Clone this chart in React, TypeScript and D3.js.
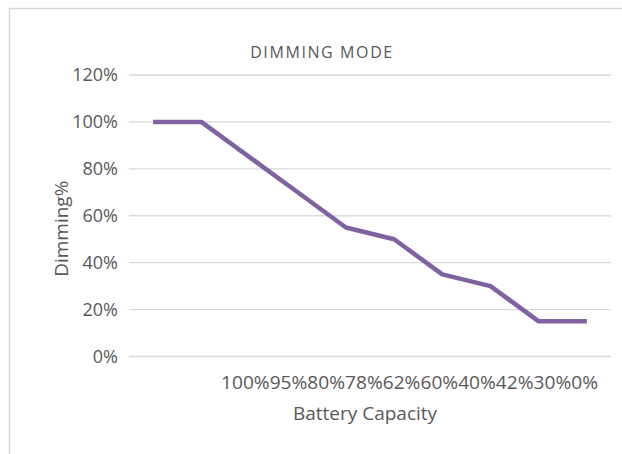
import * as d3 from "d3";
import { useEffect, useRef } from "react";

const categories = ["100%", "95%", "80%", "78%", "62%", "60%", "40%", "42%", "30%", "0%"];
const dimming = [100, 100, 85, 70, 55, 50, 35, 30, 15, 15];
const yTicks = [0, 20, 40, 60, 80, 100, 120];

const chartTitle = "DIMMING MODE";
const xTitle = "Battery Capacity";
const yTitle = "Dimming%";

export default function App() {
    const svgRef = useRef<SVGSVGElement | null>(null);

    useEffect(() => {
        if (!svgRef.current) return;
        const svg = d3.select(svgRef.current);
        svg.selectAll("*").remove();

        const totalW = 622;
        const totalH = 454;
        const left = 129;
        const right = 611;
        const top = 75;
        const bottom = 356.5;
        const font = "'Open Sans', 'Noto Sans', sans-serif";
        const textColor = "#595959";

        // chart frame (cut off on right and bottom like the source)
        svg.append("rect")
            .attr("x", 9.5)
            .attr("y", 8.5)
            .attr("width", 640)
            .attr("height", 470)
            .attr("fill", "#fff")
            .attr("stroke", "#d9d9d9")
            .attr("stroke-width", 1.5);

        const x = d3
            .scaleBand<number>()
            .domain(d3.range(categories.length))
            .range([left, right]);

        const y = d3.scaleLinear().domain([0, 120]).range([bottom, top]);

        const g = svg.append("g");

        // gridlines
        g.selectAll("line.grid")
            .data(yTicks)
            .join("line")
            .attr("class", "grid")
            .attr("x1", left)
            .attr("x2", right)
            .attr("y1", (d) => y(d))
            .attr("y2", (d) => y(d))
            .attr("stroke", "#d9d9d9")
            .attr("stroke-width", 1.3);

        // y tick labels
        g.selectAll("text.ytick")
            .data(yTicks)
            .join("text")
            .attr("class", "ytick")
            .attr("x", left - 11)
            .attr("y", (d) => y(d))
            .attr("dy", "0.36em")
            .attr("text-anchor", "end")
            .attr("font-family", font)
            .attr("font-size", 18)
            .attr("fill", textColor)
            .text((d) => `${d}%`);

        const line = d3
            .line<number>()
            .x((d, i) => x(i)! + x.bandwidth() / 2)
            .y((d) => y(d));

        g.append("path")
            .datum(dimming)
            .attr("fill", "none")
            .attr("stroke", "#7f63a1")
            .attr("stroke-width", 4.5)
            .attr("stroke-linejoin", "round")
            .attr("d", line);

        // category labels run together as one string, like the source
        svg.append("text")
            .attr("x", right - 13)
            .attr("y", 389)
            .attr("text-anchor", "end")
            .attr("font-family", font)
            .attr("font-size", 19)
            .attr("textLength", 377)
            .attr("lengthAdjust", "spacingAndGlyphs")
            .attr("fill", textColor)
            .text(categories.join(""));

        svg.append("text")
            .attr("x", (left + right) / 2 - 5)
            .attr("y", 420)
            .attr("text-anchor", "middle")
            .attr("font-family", font)
            .attr("font-size", 19)
            .attr("fill", textColor)
            .text(xTitle);

        svg.append("text")
            .attr("transform", `translate(68,${(top + bottom) / 2 + 13}) rotate(-90)`)
            .attr("text-anchor", "middle")
            .attr("font-family", font)
            .attr("font-size", 19)
            .attr("fill", textColor)
            .text(yTitle);

        svg.append("text")
            .attr("x", 322)
            .attr("y", 58)
            .attr("text-anchor", "middle")
            .attr("font-family", font)
            .attr("font-size", 16)
            .attr("letter-spacing", 1.6)
            .attr("fill", textColor)
            .text(chartTitle);

        svg.attr("width", totalW).attr("height", totalH);
    }, []);

    return (
        <svg
            ref={svgRef}
            style={{ position: "absolute", left: 0, top: 0, display: "block" }}
        />
    );
}
